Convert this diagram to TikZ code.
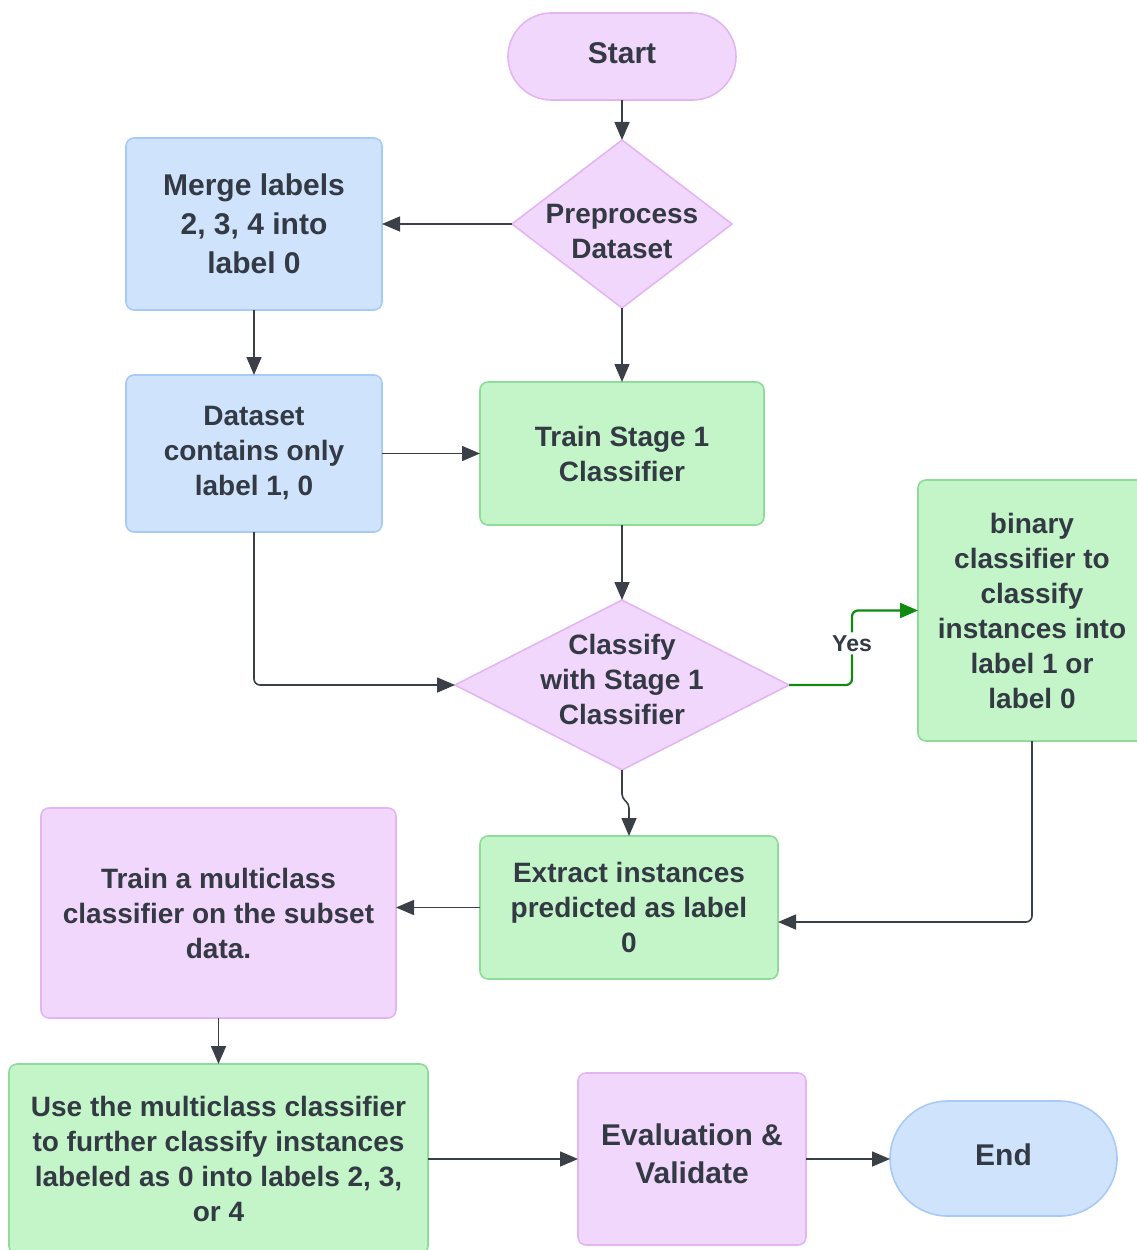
\documentclass[tikz,border=0pt]{standalone}
\usepackage{fontspec}
\setmainfont{Liberation Sans}
\usetikzlibrary{arrows.meta,shapes.geometric,calc}
\definecolor{pfill}{HTML}{F2D7FC}
\definecolor{pline}{HTML}{E3B5F3}
\definecolor{bfill}{HTML}{CFE3FD}
\definecolor{bline}{HTML}{A8CAF6}
\definecolor{gfill}{HTML}{C3F5C9}
\definecolor{gline}{HTML}{8EDC99}
\definecolor{txt}{HTML}{343A44}
\definecolor{arrc}{HTML}{3B4048}
\definecolor{yesc}{HTML}{108A10}
\newcommand\myfs[2]{\fontsize{#1}{#2}\selectfont\bfseries}
\begin{document}
\begin{tikzpicture}[x=1pt,y=-1pt,
 box/.style={rectangle, rounded corners=8pt, inner sep=0pt, outer sep=0pt, align=center, text=txt, font=\myfs{28}{35}, line width=1.6pt},
 purp/.style={box, draw=pline, fill=pfill},
 blu/.style={box, draw=bline, fill=bfill},
 grn/.style={box, draw=gline, fill=gfill},
 dia/.style={diamond, inner sep=0pt, outer sep=0pt, line width=1.6pt, draw=pline, fill=pfill},
 lbl/.style={inner sep=0pt, align=center, text=txt, font=\myfs{28}{35}},
 arr/.style={-{Triangle[length=18pt,width=15pt]}, line width=1.6pt, draw=arrc, rounded corners=6pt},
]
\useasboundingbox (0,0) rectangle (1136,1250);
\fill[white] (0,0) rectangle (1136,1250);

\node[purp, rounded corners=43.5pt, minimum width=228pt, minimum height=87pt] (start) at (622,56.5) {};
\node[lbl, font=\myfs{30}{38}] (startt) at (622,53.5) {Start};
\node[dia, minimum width=220pt, minimum height=168pt] (pre) at (622,224) {};
\node[lbl] (pret) at (622,232) {Preprocess\\Dataset};
\node[blu, minimum width=256pt, minimum height=172pt, font=\myfs{30}{39}] (merge) at (254,224) {Merge labels\\2, 3, 4 into\\label 0};
\node[blu, minimum width=256pt, minimum height=157pt] (ds) at (254,453.5) {Dataset\\contains only\\label 1, 0};
\node[grn, minimum width=284pt, minimum height=143pt] (tr) at (622,453.5) {Train Stage 1\\Classifier};
\node[dia, minimum width=334pt, minimum height=170pt] (cls) at (622,685) {};
\node[lbl] (clst) at (622,679) {Classify\\with Stage 1\\Classifier};
\node[grn, minimum width=228pt, minimum height=261pt] (bin) at (1032,610.5) {binary\\classifier to\\classify\\instances into\\label 1 or\\label 0};
\node[grn, minimum width=298pt, minimum height=143pt] (ext) at (629,907.5) {Extract instances\\predicted as label\\0};
\node[purp, minimum width=355pt, minimum height=210pt] (tm) at (218.5,913) {Train a multiclass\\classifier on the subset\\data.};
\node[grn, minimum width=419pt, minimum height=190pt] (use) at (218.5,1159) {Use the multiclass classifier\\to further classify instances\\labeled as 0 into labels 2, 3,\\or 4};
\node[purp, minimum width=228pt, minimum height=172pt] (ev) at (692,1159) {};
\node[lbl, font=\myfs{30}{38}] (evt) at (692,1154) {Evaluation \&\\Validate};
\node[blu, rounded corners=57.5pt, minimum width=227pt, minimum height=115pt] (end) at (1003.5,1158.5) {};
\node[lbl, font=\myfs{30}{38}] (endt) at (1003.5,1155) {End};

\draw[arr] (start) -- (pre);
\draw[arr] (pre) -- (merge);
\draw[arr] (pre) -- (tr);
\draw[arr] (merge) -- (ds);
\draw[arr] (ds) -- (tr);
\draw[arr] (tr) -- (cls);
\draw[arr] (ds.south) |- (cls.west);
\draw[arr, rounded corners=4pt] (cls.south) -- ++(0,28) -- ($(ext.north)+(0,-32)$) -- (ext.north);
\draw[arr, draw=yesc, line width=2.2pt] (cls.east) -- ++(63,0) |- node[pos=0.28, fill=white, inner sep=3pt, text=txt, font=\myfs{23}{26}] (yes) {Yes} (bin.west);
\draw[arr] (bin.south) |- ($(ext.east)+(0,14.5)$);
\draw[arr] (ext.west) -- (ext.west -| tm.east);
\draw[arr] (tm) -- (use);
\draw[arr] (use) -- (ev);
\draw[arr] (ev.east) -- (ev.east -| end.west);
\end{tikzpicture}
\end{document}
